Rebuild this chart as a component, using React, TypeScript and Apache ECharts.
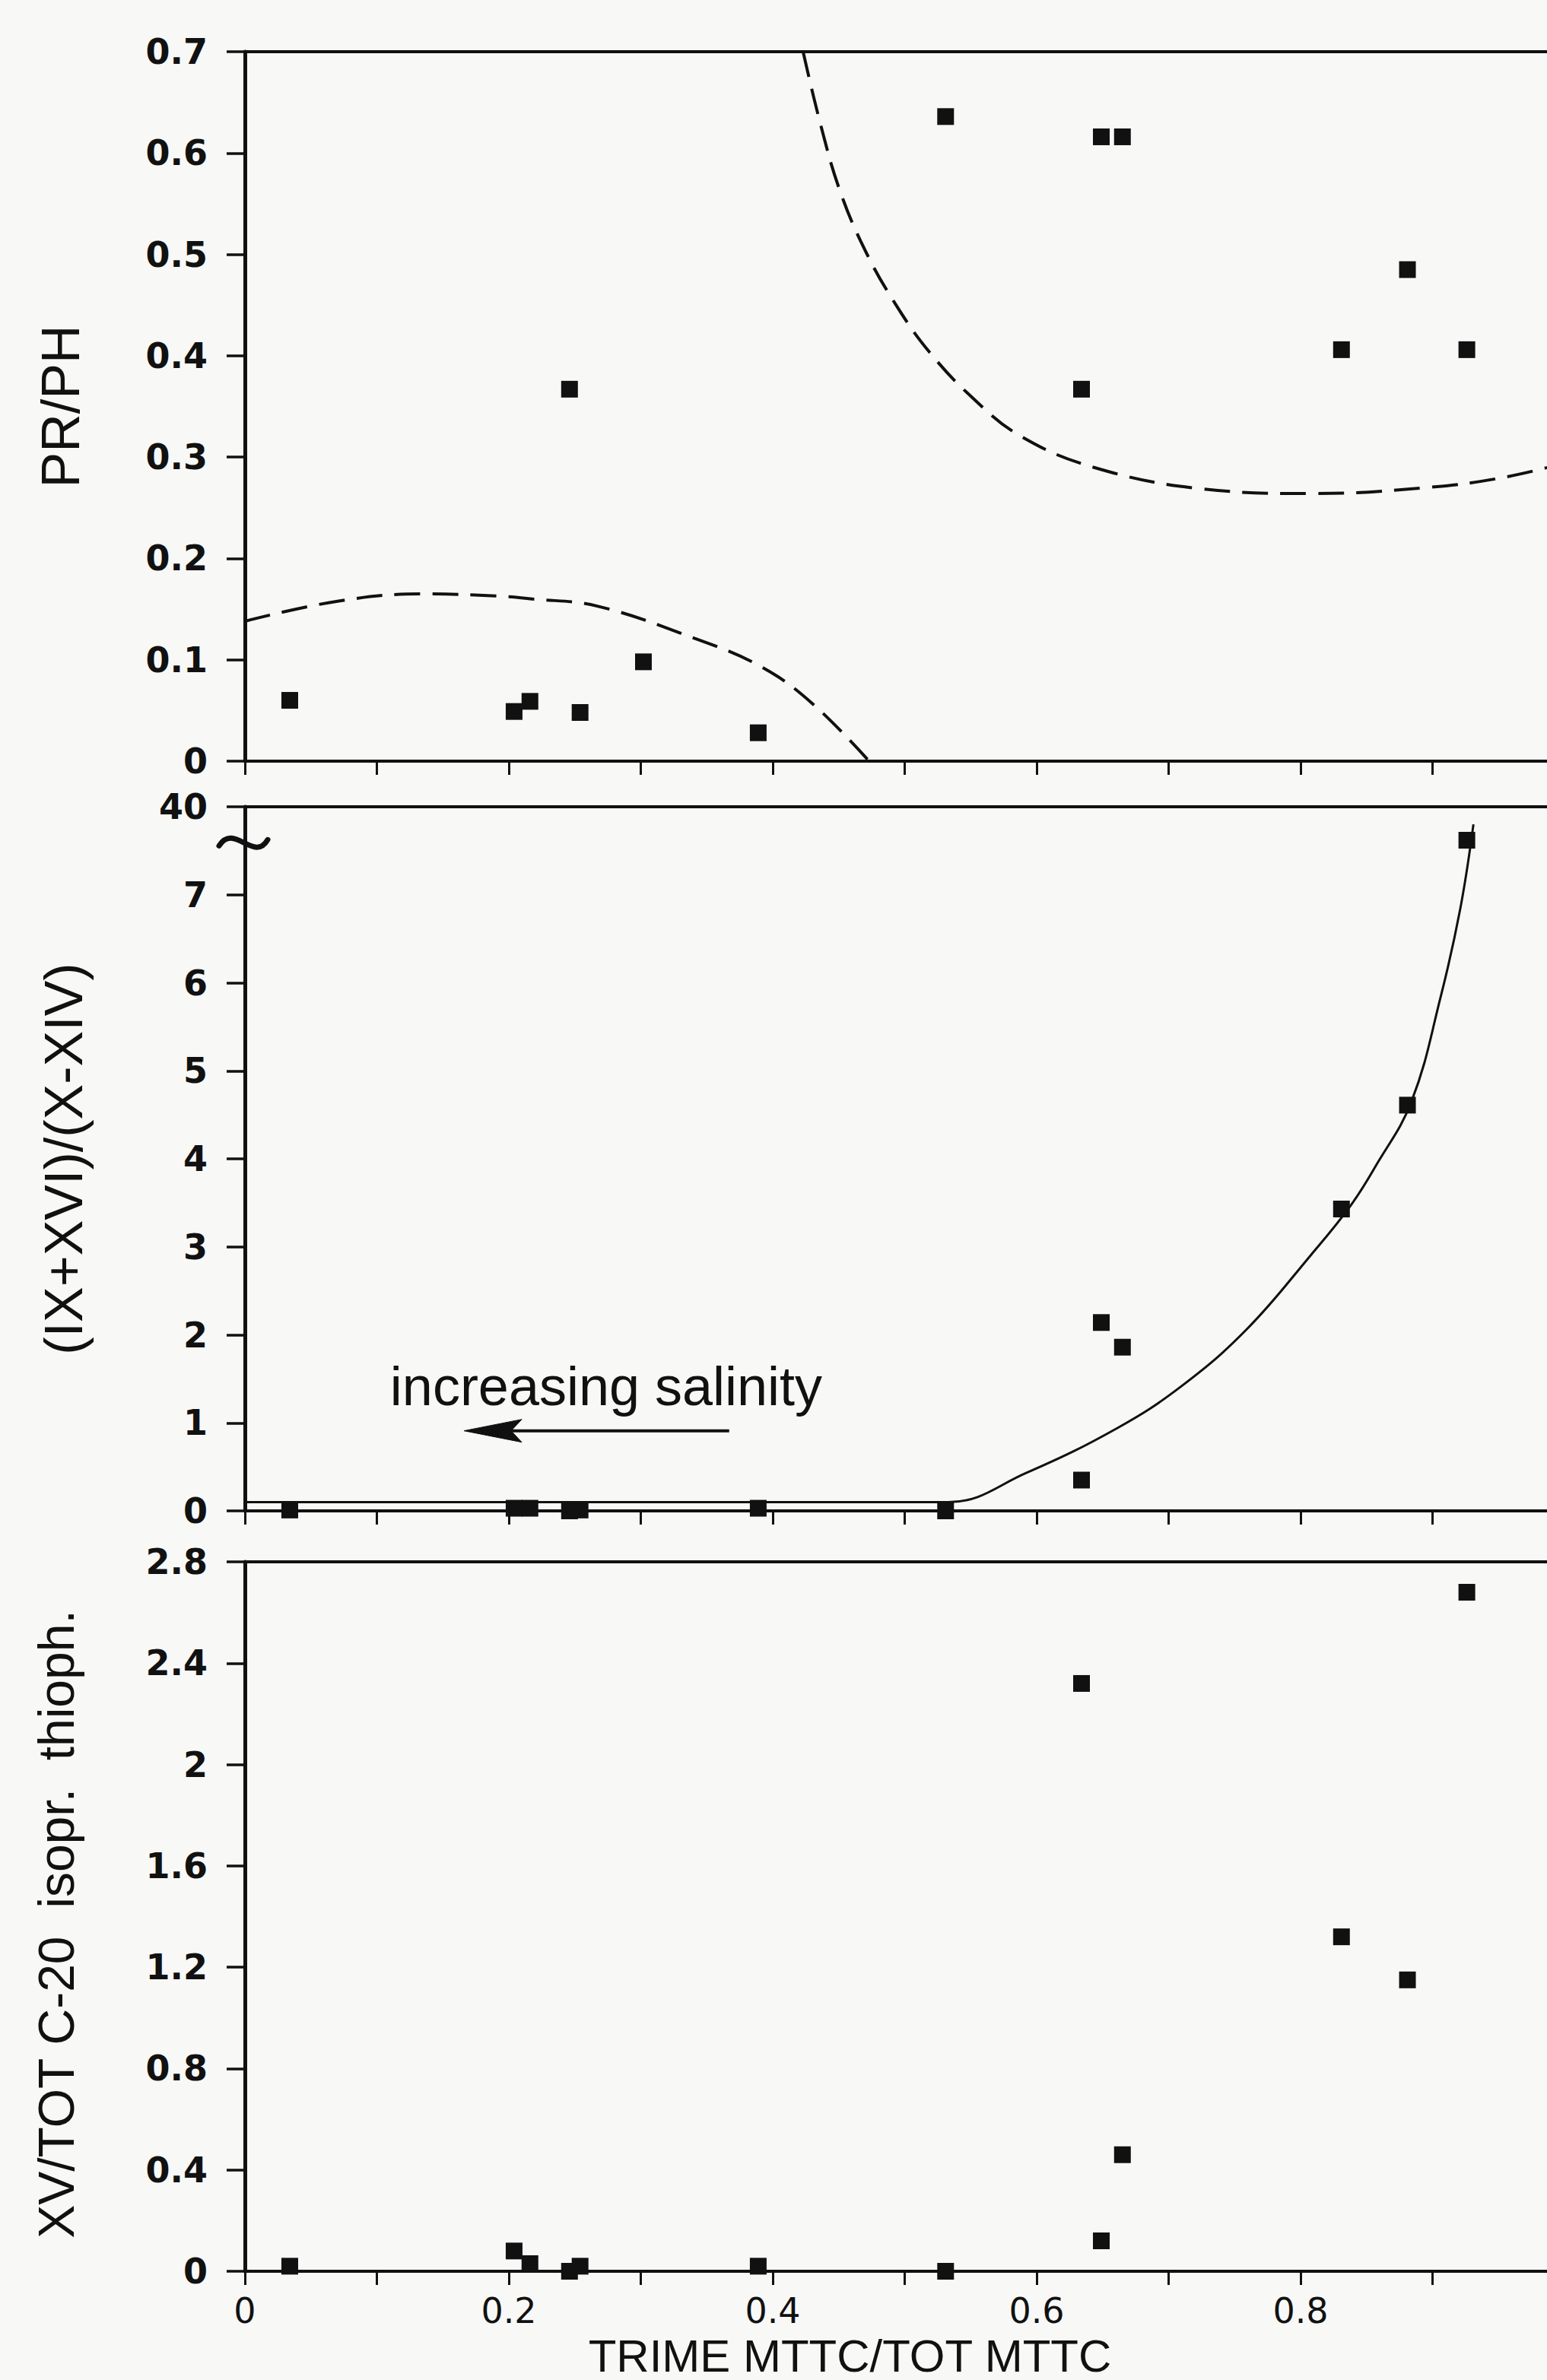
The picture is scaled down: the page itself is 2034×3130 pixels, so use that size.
import React, { useEffect, useRef } from "react";
import * as echarts from "echarts";

// ---- data ----
// x value of each sample (TRIME MTTC / TOT MTTC); null = no mark in that panel
const SAMPLE_X = [0.034, 0.204, 0.216, 0.246, 0.254, 0.302, 0.389, 0.531, 0.634, 0.649, 0.665, 0.831, 0.881, 0.926];
const PR_PH = [0.06, 0.049, 0.059, 0.367, 0.048, 0.098, 0.028, 0.636, 0.367, 0.616, 0.616, 0.406, 0.485, 0.406];
// middle panel: broken axis (0..7 linear, top tick = 40); the highest point sits just below the break
const IX_XVI_RATIO = [0.01, 0.03, 0.03, 0.0, 0.01, null, 0.03, 0.0, 0.35, 2.14, 1.86, 3.43, 4.61, 7.62];
const XV_TOT_C20 = [0.02, 0.08, 0.03, 0.0, 0.02, null, 0.02, 0.0, 2.32, 0.12, 0.46, 1.32, 1.15, 2.68];

// dashed boundary curves in the PR/PH panel
const UPPER_BOUND_X = [0.423, 0.4357, 0.4506, 0.47, 0.493, 0.5185, 0.551, 0.5875, 0.643, 0.723, 0.81, 0.896, 0.95, 1.0];
const UPPER_BOUND_Y = [0.7, 0.631, 0.564, 0.504, 0.451, 0.404, 0.359, 0.321, 0.29, 0.269, 0.264, 0.27, 0.279, 0.294];
const LOWER_BOUND_X = [0, 0.071, 0.136, 0.19, 0.218, 0.267, 0.341, 0.39, 0.429, 0.473];
const LOWER_BOUND_Y = [0.138, 0.158, 0.165, 0.163, 0.16, 0.153, 0.121, 0.094, 0.058, 0.0];

// fitted curve in the middle panel
const FIT_X = [0, 0.533, 0.592, 0.661, 0.71, 0.759, 0.808, 0.838, 0.857, 0.884, 0.906, 0.921, 0.931];
const FIT_Y = [0.1, 0.1, 0.43, 0.94, 1.42, 2.06, 2.91, 3.47, 3.92, 4.65, 5.83, 6.84, 7.8];

// tick labels
const X_LABEL_VALUES = [0, 0.2, 0.4, 0.6, 0.8];
const X_LABEL_TEXT = ["0", "0.2", "0.4", "0.6", "0.8"];
const MID_Y_LABELS = ["0", "1", "2", "3", "4", "5", "6", "7", "40"];

// annotation anchors (data coordinates of the middle panel)
const AXIS_BREAK_AT = 7.6;
const SALINITY_TEXT = "increasing salinity";
const SALINITY_TEXT_AT = [0.11, 1.42];
const ARROW_FROM = [0.367, 0.91];
const ARROW_TO = [0.166, 0.91];

const INK = "#111111";
const BG = "#f8f8f7";
const TICK_FONT = "DejaVu Sans";
const NAME_FONT = "Liberation Sans";

const zip = (xs: number[], ys: (number | null)[]) =>
  xs.map((x, i) => (ys[i] == null ? null : [x, ys[i] as number])).filter((d) => d !== null);

const GRIDS = [
  { left: 322, width: 1735, top: 68, height: 933 },
  { left: 322, width: 1735, top: 1061, height: 926 },
  { left: 322, width: 1735, top: 2054, height: 933 },
];

function bottomX(gridIndex: number, withLabels: boolean): any {
  return {
    gridIndex,
    type: "value",
    position: "bottom",
    min: 0,
    max: 1,
    interval: 0.1,
    axisLine: { show: true, onZero: false, lineStyle: { color: INK, width: 4 } },
    axisTick: { show: true, length: 18, lineStyle: { color: INK, width: 3 } },
    splitLine: { show: false },
    axisLabel: withLabels
      ? {
          show: true,
          margin: 32,
          color: INK,
          fontFamily: TICK_FONT,
          fontSize: 46,
          lineHeight: 40,
          showMaxLabel: false,
          formatter: (v: number) => {
            const i = X_LABEL_VALUES.findIndex((t) => Math.abs(t - v) < 1e-6);
            return i >= 0 ? X_LABEL_TEXT[i] : "";
          },
        }
      : { show: false },
  };
}

function topX(gridIndex: number): any {
  return {
    gridIndex,
    type: "value",
    position: "top",
    min: 0,
    max: 1,
    axisLine: { show: true, onZero: false, lineStyle: { color: INK, width: 4 } },
    axisTick: { show: false },
    axisLabel: { show: false },
    splitLine: { show: false },
  };
}

function leftY(gridIndex: number, min: number, max: number, interval: number, name: string, nameGap: number, fontSize: number, extra: any = {}): any {
  return {
    gridIndex,
    type: "value",
    min,
    max,
    interval,
    name,
    nameLocation: "middle",
    nameRotate: 90,
    nameGap,
    nameTextStyle: { fontFamily: NAME_FONT, fontSize, color: INK, ...(extra.nameTextStyle || {}) },
    axisLine: { show: true, onZero: false, lineStyle: { color: INK, width: 5 } },
    axisTick: { show: true, length: 24, lineStyle: { color: INK, width: 3.5 } },
    splitLine: { show: false },
    axisLabel: {
      margin: 49,
      color: INK,
      fontFamily: TICK_FONT,
      fontWeight: "bold",
      fontSize: 46,
      ...(extra.axisLabel || {}),
    },
  };
}

const markerStyle = { symbol: "rect", symbolSize: 22, itemStyle: { color: INK, opacity: 1 } };
const dashed = { type: [34, 16], width: 4, color: INK };

const option: any = {
  animation: false,
  backgroundColor: BG,
  grid: GRIDS,
  xAxis: [
    bottomX(0, false),
    topX(0),
    bottomX(1, false),
    topX(1),
    {
      ...bottomX(2, true),
      name: "TRIME MTTC/TOT MTTC",
      nameLocation: "middle",
      nameGap: 86,
      nameTextStyle: { fontFamily: NAME_FONT, fontSize: 60, lineHeight: 50, color: INK, padding: [0, 144, 0, 0] },
    },
    topX(2),
  ],
  yAxis: [
    leftY(0, 0, 0.7, 0.1, "PR/PH", 207, 70),
    leftY(1, 0, 8, 1, "(IX+XVI)/(X-XIV)", 203, 70, {
      axisLabel: { formatter: (v: number) => MID_Y_LABELS[Math.round(v)] ?? "" },
    }),
    leftY(2, 0, 2.8, 0.4, "XV/TOT C-20  isopr.  thioph.", 215, 66, {
      nameTextStyle: { padding: [0, 20, 0, 0] },
    }),
  ],
  series: [
    { type: "scatter", xAxisIndex: 0, yAxisIndex: 0, data: zip(SAMPLE_X, PR_PH), ...markerStyle },
    {
      type: "line",
      xAxisIndex: 0,
      yAxisIndex: 0,
      data: zip(UPPER_BOUND_X, UPPER_BOUND_Y),
      smooth: 0.4,
      showSymbol: false,
      symbol: "none",
      lineStyle: dashed,
    },
    {
      type: "line",
      xAxisIndex: 0,
      yAxisIndex: 0,
      data: zip(LOWER_BOUND_X, LOWER_BOUND_Y),
      smooth: 0.4,
      showSymbol: false,
      symbol: "none",
      lineStyle: dashed,
    },
    { type: "scatter", xAxisIndex: 2, yAxisIndex: 1, data: zip(SAMPLE_X, IX_XVI_RATIO), ...markerStyle },
    {
      type: "line",
      xAxisIndex: 2,
      yAxisIndex: 1,
      data: zip(FIT_X, FIT_Y),
      smooth: 0.4,
      showSymbol: false,
      symbol: "none",
      lineStyle: { color: INK, width: 3 },
    },
    { type: "scatter", xAxisIndex: 4, yAxisIndex: 2, data: zip(SAMPLE_X, XV_TOT_C20), ...markerStyle },
  ],
};

export default function App() {
  const ref = useRef<HTMLDivElement>(null);
  useEffect(() => {
    if (!ref.current) return;
    const chart = echarts.init(ref.current, null, { renderer: "svg" });
    chart.setOption(option);

    const px = (p: number[]) => chart.convertToPixel({ gridIndex: 1 }, p) as number[];
    const b = px([0, AXIS_BREAK_AT]);
    const t = px(SALINITY_TEXT_AT);
    const a0 = px(ARROW_FROM);
    const a1 = px(ARROW_TO);

    chart.setOption({
      graphic: [
        {
          type: "bezierCurve",
          z: 100,
          shape: {
            x1: b[0] - 34,
            y1: b[1] + 5,
            cpx1: b[0] - 14,
            cpy1: b[1] - 26,
            cpx2: b[0] + 12,
            cpy2: b[1] + 28,
            x2: b[0] + 30,
            y2: b[1] - 3,
          },
          style: { stroke: INK, lineWidth: 7, fill: null, lineCap: "round" },
        },
        {
          type: "text",
          x: t[0],
          y: t[1],
          z: 100,
          style: {
            text: SALINITY_TEXT,
            fill: INK,
            font: `normal 72px "${NAME_FONT}"`,
            fontSize: 72,
            fontFamily: NAME_FONT,
            align: "left",
            textAlign: "left",
            verticalAlign: "middle",
            textVerticalAlign: "middle",
          },
        },
        {
          type: "line",
          z: 100,
          shape: { x1: a0[0], y1: a0[1], x2: a1[0] + 60, y2: a1[1] },
          style: { stroke: INK, lineWidth: 4 },
        },
        {
          type: "polygon",
          z: 100,
          shape: {
            points: [
              [a1[0], a1[1]],
              [a1[0] + 76, a1[1] - 15],
              [a1[0] + 62, a1[1]],
              [a1[0] + 76, a1[1] + 15],
            ],
          },
          style: { fill: INK, stroke: INK, lineWidth: 1 },
        },
      ],
    });
    return () => chart.dispose();
  }, []);

  return (
    <div
      style={{
        position: "fixed",
        left: 0,
        top: 0,
        width: 2034,
        height: 3130,
        overflow: "hidden",
        background: BG,
      }}
    >
      <div ref={ref} style={{ width: 2100, height: 3130 }} />
    </div>
  );
}
